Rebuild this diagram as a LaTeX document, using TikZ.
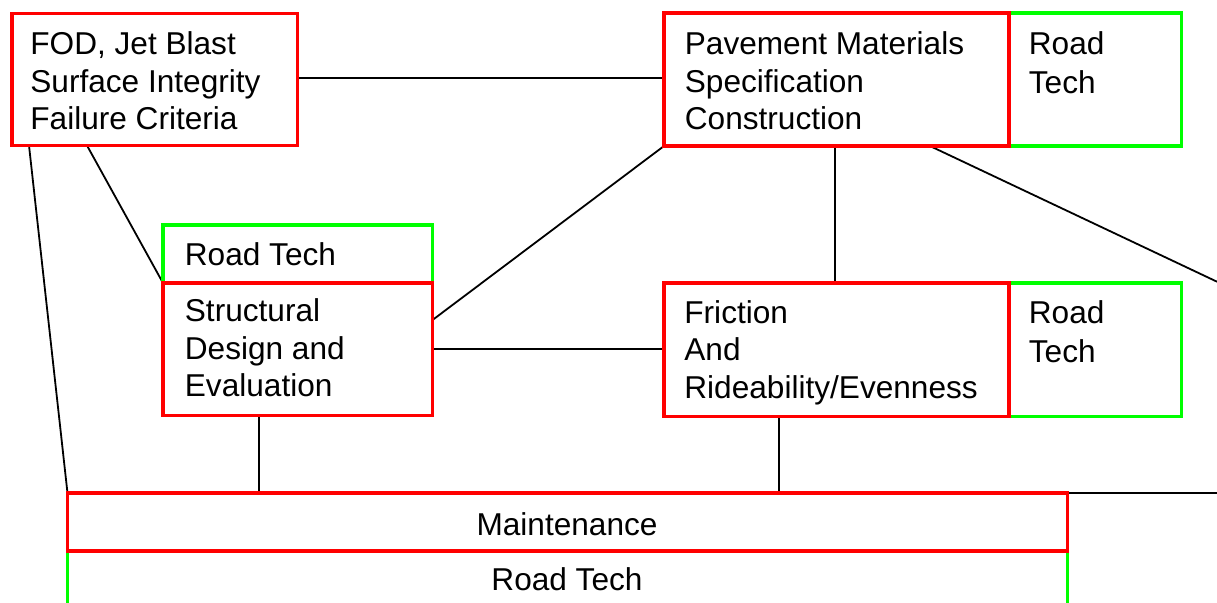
\documentclass[tikz,border=0pt]{standalone}
\usepackage{fontspec}
\setmainfont{Liberation Sans}
\usetikzlibrary{fit,calc}
\pgfdeclarelayer{links}
\pgfsetlayers{links,main}

\begin{document}
\begin{tikzpicture}[x=0.5pt,y=-0.5pt,
  topic/.style={draw=red, line width=1.75pt, inner sep=0pt, outer sep=0pt},
  owner/.style={draw=green, line width=1.65pt, inner sep=0pt, outer sep=0pt},
  body/.style={anchor=base west, inner sep=0pt, font=\fontsize{15.8}{18.75}\selectfont},
  tag/.style={anchor=base west, inner sep=0pt, font=\fontsize{15.8}{19.5}\selectfont},
  midtext/.style={anchor=base, inner sep=0pt, font=\fontsize{15.8}{18.75}\selectfont},
  link/.style={draw=black, line width=0.9pt}]
\useasboundingbox (0,0) rectangle (1217,602);
\clip (0,0) rectangle (1217,602);

% green "Road Tech" frames
\node[owner, fit={(1009,13) (1181.5,146)}] (pavRT) {};
\node[owner, fit={(163,225) (432.5,283)}] (structRT) {};
\node[owner, fit={(1009,283) (1181.5,416.5)}] (fricRT) {};
\node[owner, fit={(67.5,551) (1067.5,640)}] (maintRT) {};

% red topic frames
\node[topic, fit={(12,13.5) (297.5,145.5)}] (fod) {};
\node[topic, fit={(664,13) (1009,146)}] (pav) {};
\node[topic, fit={(163,283) (432.5,415.5)}] (struct) {};
\node[topic, fit={(664,283) (1009,416.5)}] (fric) {};
\node[topic, fit={(67.5,493) (1067.5,551)}] (maint) {};

% loose ends running off the right margin
\coordinate (offR) at (1217,281.7);
\coordinate (offM) at (1217,493);

% texts
\node[body] (fodT) at (30,54.5)
  {\vtop{\hbox{FOD, Jet Blast}\hbox{Surface Integrity}\hbox{Failure Criteria}}};
\node[body] (pavT) at (684.5,54.5)
  {\vtop{\hbox{Pavement Materials}\hbox{Specification}\hbox{Construction}}};
\node[tag] (pavRTT) at (1028.5,54.5) {\vtop{\hbox{Road}\hbox{Tech}}};
\node[body] (structRTT) at (184.5,265.5) {Road Tech};
\node[body] (structT) at (184.5,321.5)
  {\vtop{\hbox{Structural}\hbox{Design and}\hbox{Evaluation}}};
\node[body] (fricT) at (684,323)
  {\vtop{\hbox{Friction}\hbox{And}\hbox{Rideability/Evenness}}};
\node[tag] (fricRTT) at (1028.5,323.3) {\vtop{\hbox{Road}\hbox{Tech}}};
\node[midtext] (maintT) at (567,535) {Maintenance};
\node[midtext] (maintRTT) at (567,590) {Road Tech};

% connectors
\begin{pgfonlayer}{links}
\draw[link] ($(fod.east)+(0,-1.5)$) -- ($(pav.west)+(0,-1.5)$);
\draw[link] ($(fod.south west)+(75,0)$) -- (struct.north west);
\draw[link] ($(fod.south west)+(17,0)$) -- (maint.north west);
\draw[link] (pav.south west) -- ($(struct.north east)+(0,37)$);
\draw[link] ($(pav.south west)+(171,0)$) -- ($(fric.north west)+(171,0)$);
\draw[link] ($(pav.south west)+(266,0)$) -- (offR);
\draw[link] (struct.east) -- (struct.east -| fric.west);
\draw[link] ($(struct.south west)+(96,0)$) -- ($(maint.north west)+(191.5,0)$);
\draw[link] ($(fric.south west)+(115,0)$) -- ($(maint.north west)+(711.5,0)$);
\draw[link] (maint.north east) -- (offM);
\end{pgfonlayer}
\end{tikzpicture}
\end{document}
